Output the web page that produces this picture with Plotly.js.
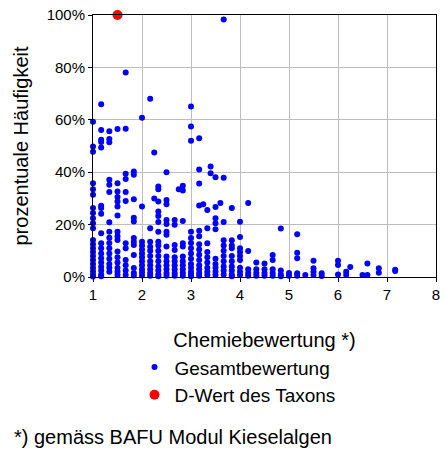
<!DOCTYPE html>
<html>
<head>
<meta charset="utf-8">
<script src="https://cdn.plot.ly/plotly-3.0.1.min.js"></script>
<style>html,body{margin:0;padding:0;background:#fff;}#chart{width:446px;height:450px;}</style>
</head>
<body>
<div id="chart"></div>
<script>
// Chemiebewertung (x) columns and the percentages (y) of points in each column
const chemieX = [1, 1.167, 1.333, 1.5, 1.667, 1.833, 2, 2.167, 2.25, 2.333, 2.5, 2.667, 2.75, 2.833,
  3, 3.167, 3.25, 3.333, 3.4, 3.5, 3.6, 3.667, 3.833, 4, 4.167, 4.333, 4.5, 4.667, 4.833,
  5, 5.167, 5.333, 5.5, 5.667, 6, 6.167, 6.25, 6.5, 6.6, 6.833, 7.167];
const haeufigkeit = [
  [59.3,49.8,47.8,35.8,33.5,31.4,26.3,24.4,22.4,20.5,18.6,14.1,12.5,11,9.5,8,6.5,5,3.5,2.2,1,0.2],
  [65.9,56.1,52.4,51.5,49.4,27.2,26.3,24.1,16.7,12.9,11,9,7.2,5.5,3.9,2.5,1,0.3],
  [55.6,52.7,51.4,37.1,35.2,32.4,20.9,17.3,15,13,11,9,7,5,3.5,2],
  [56.5,35.8,32.6,30.5,28.8,26.9,23.5,17.3,15.6,14.1,9.7,7.5,5.5,3.5,2,0.8],
  [78.1,56.6,39.4,37.4,32.4,29,12.9,11,6.5,4.5,2.5,0.8],
  [40.3,39,29.7,22.6,21.2,14.9,13.5,12.2,8.4,3.4,1.5,0.6],
  [60.8,26.9,13.5,12,10.5,9,7.5,6,4.5,3,1.8,0.6],
  [68,18.6,13.5,11.5,10,8,6,4.5,3,1.5,0.5],
  [47.5,30],
  [34.5,33.5,28.8,25,23.3,21,17.3,13.5,12,10,8,6,4,2.5,1,0.3],
  [40,29.4,27.8,21.8,20.2,17.3,16.1,11.6,7.8,6,4.5,3,1.5,0.5],
  [21.8,19.9,12.2,10.3,7.5,6,4.5,3,1.5,0.5],
  [33.5],
  [34.8,33,21.4,12.9,11.6,7.8,6,4.5,3,1.5,0.5],
  [65.1,57.4,52,17.3,14.9,13,11,9,7,5,3.5,2,1,0.3],
  [53,41,35.7,27.3,17.7,15.6,12.5,10.5,8.5,6.5,4.5,3,1.5,0.5],
  [27.8],
  [25.6,18.6,12.9,9.5,7.5,5.5,3.5,2,0.8],
  [42.2,39.6],
  [38.1,26.7,22.4,20.5,18.2,7,5,3.5,2,0.8],
  [28.2],
  [98.3,37.9,21,14,12,10,8,6,4,2.5,1],
  [26.3,14,12,11,8,6,4,2.5,1,0.3],
  [21.1,15.3,11,9.5,8,6.5,3.5,2,0.8],
  [28.2,9.9,3,1.5,0.5],
  [5.5,3,1.5,0.5],
  [5.2,3,1.5,0.5],
  [8.4,6.5,3,1.5,0.5],
  [18.5,2.5,1,0.3],
  [1.5,0.5],
  [16.3,9.3,7.2,1.4,0.5],
  [0.8],
  [6.2,3.3,2,0.8],
  [1.4,0.4],
  [6.2,4.6,1],
  [2,0.8],
  [3.8],
  [0.8],
  [5.2,0.8],
  [3.3,1.6],
  [2.8,2.3]
];
// D-Wert des Taxons
const taxonX = [1.5];
const taxonY = [100];

const yTickVals = [0, 20, 40, 60, 80, 100];
const yTickText = ['0%', '20%', '40%', '60%', '80%', '100%'];
const xTickVals = [1, 2, 3, 4, 5, 6, 7, 8];

const gx = [], gy = [];
chemieX.forEach((x, i) => haeufigkeit[i].forEach(v => { gx.push(x); gy.push(v); }));

const font = 'Liberation Sans, Arial, sans-serif';
const data = [
  {x: gx, y: gy, type: 'scatter', mode: 'markers', name: 'Gesamtbewertung',
   marker: {color: '#0000ff', size: 6}, cliponaxis: false},
  {x: taxonX, y: taxonY, type: 'scatter', mode: 'markers', name: 'D-Wert des Taxons',
   marker: {color: '#ff0000', size: 10}, cliponaxis: false}
];
const layout = {
  width: 446, height: 450,
  margin: {l: 93, r: 10, t: 15, b: 173},
  paper_bgcolor: '#fff', plot_bgcolor: '#fff',
  font: {family: font, color: '#000', size: 16},
  showlegend: true,
  legend: {x: 0.121, xanchor: 'left', y: -0.272, yanchor: 'top', font: {size: 19, family: font},
           bgcolor: 'rgba(0,0,0,0)', tracegroupgap: 0},
  xaxis: {range: [1, 8], tickvals: xTickVals, showgrid: true, gridcolor: '#bdbdbd', gridwidth: 1,
          zeroline: false, showline: true, linecolor: '#000', linewidth: 1, mirror: true,
          ticks: 'outside', ticklen: 4, tickcolor: '#000', tickfont: {size: 15},
          title: {text: 'Chemiebewertung *)', font: {size: 20}, standoff: 30}},
  yaxis: {range: [0, 100], tickvals: yTickVals, ticktext: yTickText, showgrid: true,
          gridcolor: '#bdbdbd', gridwidth: 1, zeroline: false, showline: true, linecolor: '#000',
          linewidth: 1, mirror: true, ticks: 'outside', ticklen: 4, tickcolor: '#000',
          tickfont: {size: 15},
          title: {text: 'prozentuale Häufigkeit', font: {size: 20}, standoff: 12}},
  annotations: [
    {text: '*) gemäss BAFU Modul Kieselalgen', xref: 'paper', yref: 'paper',
     x: -93/343, y: (277-437)/261.5, xanchor: 'left', yanchor: 'middle', showarrow: false,
     font: {size: 20, family: font}, xshift: 12}
  ]
};
Plotly.newPlot('chart', data, layout, {displayModeBar: false, staticPlot: true});
</script>
</body>
</html>
